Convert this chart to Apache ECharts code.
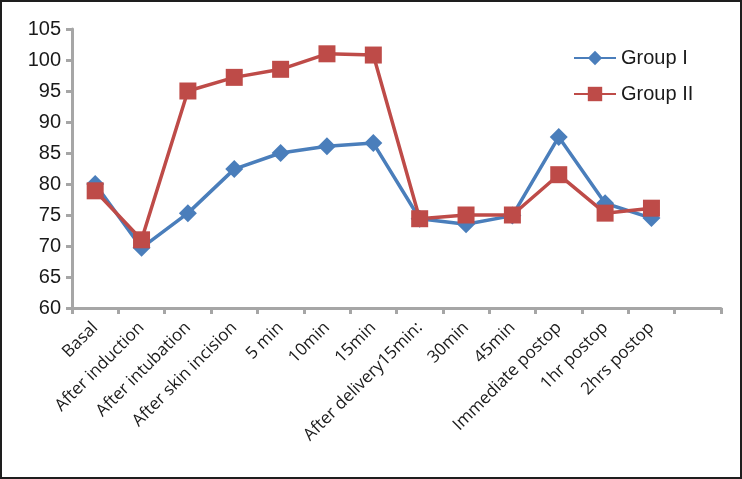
<!DOCTYPE html>
<html>
<head>
<meta charset="utf-8">
<script src="https://cdn.jsdelivr.net/npm/echarts@6/dist/echarts.min.js"></script>
<style>
html,body{margin:0;padding:0;background:#fff;}
#c{width:742px;height:479px;box-sizing:border-box;border:2px solid #1e1e1e;}
</style>
</head>
<body>
<div id="c"></div>
<script>
const categories = ['Basal','After induction','After intubation','After skin incision','5 min','10min','15min','After delivery15min:','30min','45min','Immediate postop','1hr postop','2hrs postop',''];
const groupI  = [80.0, 69.7, 75.3, 82.4, 85.0, 86.1, 86.6, 74.4, 73.5, 74.9, 87.6, 76.9, 74.5, null];
const groupII = [78.9, 71.0, 95.0, 97.2, 98.5, 101.0, 100.8, 74.4, 75.0, 75.0, 81.5, 75.3, 76.1, null];
const yTicks = {min: 60, max: 105, interval: 5};

const chart = echarts.init(document.getElementById('c'), null, {renderer: 'canvas'});
const axisColor = '#a6a6a6';
chart.setOption({
  animation: false,
  backgroundColor: '#fff',
  grid: {left: 70, right: 19, top: 27, bottom: 169, containLabel: false},
  legend: {
    orient: 'vertical', left: 566, top: 41, itemGap: 16,
    itemWidth: 42, itemHeight: 18,
    textStyle: {fontFamily: 'Liberation Sans, Arial, sans-serif', fontSize: 20, color: '#1a1a1a'},
    data: ['Group I', 'Group II']
  },
  xAxis: {
    type: 'category', data: categories, boundaryGap: true,
    axisLine: {lineStyle: {color: axisColor, width: 3}},
    axisTick: {show: true, length: 6, lineStyle: {color: axisColor, width: 3}},
    axisLabel: {rotate: 45, interval: 0, margin: 17, fontFamily: 'Open Sans, sans-serif', fontSize: 17, color: '#1a1a1a'},
    splitLine: {show: false}
  },
  yAxis: {
    type: 'value', min: yTicks.min, max: yTicks.max, interval: yTicks.interval,
    axisLine: {show: true, lineStyle: {color: axisColor, width: 3}},
    axisTick: {show: true, length: 6, lineStyle: {color: axisColor, width: 3}},
    axisLabel: {margin: 11, fontFamily: 'Liberation Sans, Arial, sans-serif', fontSize: 20, color: '#1a1a1a'},
    splitLine: {show: false}
  },
  series: [
    {
      name: 'Group I', type: 'line', data: groupI,
      symbol: 'diamond', symbolSize: 18, showAllSymbol: true,
      lineStyle: {color: '#4a7ebb', width: 3.5},
      itemStyle: {color: '#4a7ebb'}
    },
    {
      name: 'Group II', type: 'line', data: groupII,
      symbol: 'rect', symbolSize: 17, showAllSymbol: true,
      lineStyle: {color: '#be4b48', width: 3.5},
      itemStyle: {color: '#be4b48'}
    }
  ]
});
</script>
</body>
</html>
